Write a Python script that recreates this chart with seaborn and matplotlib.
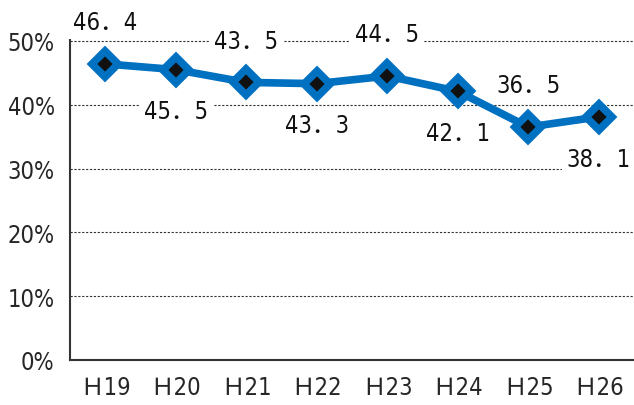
import matplotlib
matplotlib.use("Agg")
import matplotlib.pyplot as plt
import seaborn as sns
import pandas as pd
from matplotlib.ticker import FixedLocator, FuncFormatter
from matplotlib import font_manager as fm

categories = ["Ｈ19", "Ｈ20", "Ｈ21", "Ｈ22", "Ｈ23", "Ｈ24", "Ｈ25", "Ｈ26"]
values = [46.4, 45.5, 43.5, 43.3, 44.5, 42.1, 36.5, 38.1]
label_pos = ["above", "below", "above", "below", "above", "below", "above", "below"]
yticks = [0, 10, 20, 30, 40, 50]

sns.set_style("white")
cond = [f for f in fm.fontManager.ttflist
        if ("condensed" in str(f.stretch).lower() or "Narrow" in f.name or "Condensed" in f.name)
        and f.weight in (400, "normal", "regular") and f.style == "normal"]
stretch = "normal"
base = "Noto Sans CJK JP"
if cond:
    base = cond[0].name
    stretch = cond[0].stretch
fam = [base, 'Noto Sans CJK JP', 'DejaVu Sans']
plt.rcParams['font.family'] = fam
plt.rcParams['font.stretch'] = stretch
fs = 17 if cond else 15

fig = plt.figure(figsize=(6.34, 4.06), dpi=100)
ax = fig.add_axes([70/634, 1 - 361/406, 1 - 70/634, (361 - 10)/406])

df = pd.DataFrame({"year": categories, "rate": values})
x = list(range(len(categories)))
df["x"] = x

for yv in yticks[1:]:
    ax.axhline(yv, color="#333333", lw=0.8, ls=(0, (2, 1.5)), zorder=1)

sns.lineplot(data=df, x="x", y="rate", ax=ax, color="#0070C0", lw=5.5,
             marker="D", markersize=13, markerfacecolor="#111111",
             markeredgecolor="#0070C0", markeredgewidth=5.5, zorder=3)

for xi, v, pos in zip(x, values, label_pos):
    off = 30 if pos == "above" else -30
    txt = f"{v:.1f}".replace(".", "．")
    ax.annotate(txt, (xi, v), xytext=(0, off), textcoords="offset points",
                ha="center", va="center", fontsize=fs, color="#111111",
                bbox=dict(boxstyle="square,pad=0.2", fc="white", ec="none"),
                zorder=4)

ax.set_xlim(-0.5, 7.5)
ax.set_ylim(0, 55)
ax.set_yticks(yticks)
ax.yaxis.set_major_formatter(FuncFormatter(lambda v, p: f"{int(v)}%"))
ax.xaxis.set_major_locator(FixedLocator([i - 0.5 for i in range(len(categories))]))
ax.xaxis.set_minor_locator(FixedLocator(x))
ax.set_xticklabels([""] * len(categories))
ax.set_xticklabels(categories, minor=True)
ax.tick_params(axis="x", which="major", length=8, width=1.2, color="#333333", direction="out")
ax.tick_params(axis="x", which="minor", length=0, pad=11, labelsize=fs)
ax.tick_params(axis="y", length=8, width=1.2, color="#333333", direction="out", labelsize=fs, pad=3)
ax.set_xlabel("")
ax.set_ylabel("")
for s in ["top", "right"]:
    ax.spines[s].set_visible(False)
for s in ["left", "bottom"]:
    ax.spines[s].set_color("#333333")
    ax.spines[s].set_linewidth(1.5)
ax.grid(False)

fig.savefig("out.png", dpi=100)
